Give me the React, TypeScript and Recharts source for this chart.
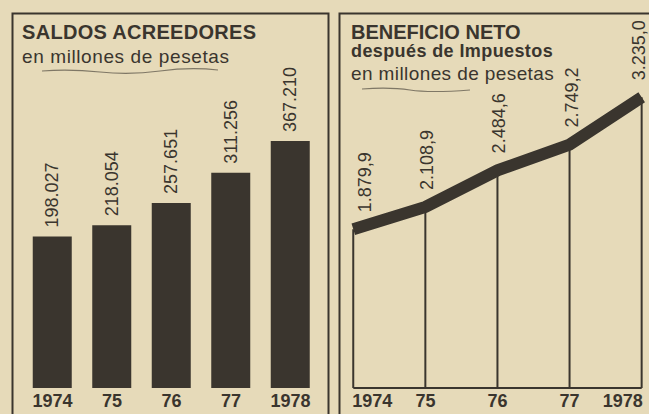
import React from 'react';
import { BarChart, Bar, XAxis, YAxis, ComposedChart, Line, LabelList } from 'recharts';

const barYears = ['1974', '75', '76', '77', '1978'];
const saldos = [198027, 218054, 257651, 311256, 367210];

const lineYears = [1974, 1975, 1976, 1977, 1978];
const lineYearLabels = ['1974', '75', '76', '77', '1978'];
const beneficio = [1879.9, 2108.9, 2484.6, 2749.2, 3235.0];

const INK = '#3a352e';
const PAPER = '#e6dab9';
const FONT = '"Liberation Sans", Arial, Helvetica, sans-serif';

// axis floor of the bar panel (bars in the original rise from below zero)
const BAR_AXIS_MIN = -70000;
const BAR_AXIS_MAX = 400000;

const barData = barYears.map((y, i) => ({ year: y, v: saldos[i] }));
const lineData = lineYears.map((y, i) => ({ year: y, v: beneficio[i] }));

const groupThousands = (s: string) => s.replace(/\B(?=(\d{3})+(?!\d))/g, '.');
const fmtSaldo = (v: number) => groupThousands(String(Math.round(v)));
const fmtBenef = (v: number) => {
  const [i, d] = v.toFixed(1).split('.');
  return groupThousands(i) + ',' + d;
};

const BarTick = (props: any) => {
  const { x, y, payload } = props;
  return (
    <text x={x} y={y + 18.5} textAnchor="middle" fontSize={18} fontWeight={700} fill={INK} fontFamily={FONT}>
      {payload.value}
    </text>
  );
};

const LineTick = (props: any) => {
  const { x, y, payload, index } = props;
  const anchor = index === 0 ? 'start' : index === lineYears.length - 1 ? 'end' : 'middle';
  const dx = index === 0 ? -1 : index === lineYears.length - 1 ? 1 : 0;
  return (
    <text x={x + dx} y={y + 18.5} textAnchor={anchor} fontSize={18} fontWeight={700} fill={INK} fontFamily={FONT}>
      {lineYearLabels[lineYears.indexOf(payload.value)]}
    </text>
  );
};

const barLabel = (p: any) => {
  const { x, y, width, value } = p;
  const v = Array.isArray(value) ? value[1] : value;
  const cx = Number(x) + Number(width) / 2 + 6;
  const sy = Number(y) - 9;
  return (
    <text
      x={cx}
      y={sy}
      transform={`rotate(-90, ${cx}, ${sy})`}
      textAnchor="start"
      fontSize={18}
      fill={INK}
      fontFamily={FONT}
    >
      {fmtSaldo(v)}
    </text>
  );
};

const lineLabel = (p: any) => {
  const { x, y, value, index } = p;
  const off = index === 0 ? 12 : index === lineYears.length - 1 ? -3 : 2;
  const cx = x + off + 6;
  const sy = y - 17;
  return (
    <text
      x={cx}
      y={sy}
      transform={`rotate(-90, ${cx}, ${sy})`}
      textAnchor="start"
      fontSize={18}
      fill={INK}
      fontFamily={FONT}
    >
      {fmtBenef(value)}
    </text>
  );
};

export default function App() {
  return (
    <div
      style={{
        position: 'absolute',
        left: 0,
        top: 0,
        width: 649,
        height: 414,
        background: PAPER,
        overflow: 'hidden',
        fontFamily: FONT,
      }}
    >
      <div style={{ position: 'absolute', left: 0, top: 0 }}>
        <BarChart
          width={330}
          height={414}
          data={barData}
          margin={{ top: 122.5, right: 9.75, bottom: 0, left: 22.75 }}
        >
          <XAxis
            dataKey="year"
            axisLine={false}
            tickLine={false}
            tickSize={0}
            tickMargin={0}
            height={26}
            interval={0}
            tick={<BarTick />}
          />
          <YAxis hide domain={[BAR_AXIS_MIN, BAR_AXIS_MAX]} allowDataOverflow />
          <Bar
            dataKey={(d: any) => [BAR_AXIS_MIN, d.v]}
            fill={INK}
            barSize={39}
            isAnimationActive={false}
          >
            <LabelList dataKey="v" content={barLabel} />
          </Bar>
        </BarChart>
      </div>

      <div style={{ position: 'absolute', left: 330, top: 0 }}>
        <ComposedChart
          width={319}
          height={414}
          data={lineData}
          margin={{ top: 71.5, right: 7.3, bottom: 0, left: 23.3 }}
        >
          <XAxis
            dataKey="year"
            type="number"
            domain={[1974, 1978]}
            ticks={lineYears}
            interval={0}
            axisLine={{ stroke: INK, strokeWidth: 2 }}
            tickLine={false}
            tickSize={0}
            tickMargin={0}
            height={26}
            tick={<LineTick />}
          />
          <YAxis hide domain={[250, 3500]} allowDataOverflow />
          <Bar dataKey="v" fill={INK} barSize={2} isAnimationActive={false} />
          <Line
            dataKey="v"
            stroke={INK}
            strokeWidth={12}
            strokeLinejoin="miter"
            strokeLinecap="butt"
            dot={false}
            isAnimationActive={false}
            label={lineLabel}
          />
        </ComposedChart>
      </div>

      <svg
        width={649}
        height={414}
        style={{ position: 'absolute', left: 0, top: 0, pointerEvents: 'none' }}
      >
        <rect x={12.5} y={13.5} width={316} height={420} fill="none" stroke={INK} strokeWidth={2} />
        <rect x={339.5} y={13.5} width={330} height={420} fill="none" stroke={INK} strokeWidth={2} />

        <text x={22} y={38.5} fontSize={20} fontWeight={700} fill={INK} fontFamily={FONT} letterSpacing={0.3}>
          SALDOS ACREEDORES
        </text>
        <text x={22} y={62.5} fontSize={19} fill={INK} fontFamily={FONT} letterSpacing={0.6}>
          en millones de pesetas
        </text>
        <path d="M42 71 Q70 69 100 72 T160 71 T218 70" fill="none" stroke={INK} strokeWidth={1.2} opacity={0.6} />

        <text x={351} y={38.5} fontSize={20} fontWeight={700} fill={INK} fontFamily={FONT}>
          BENEFICIO NETO
        </text>
        <text x={351} y={57} fontSize={18} fontWeight={700} fill={INK} fontFamily={FONT} letterSpacing={0.4}>
          después de Impuestos
        </text>
        <text x={351} y={80} fontSize={19} fill={INK} fontFamily={FONT} letterSpacing={0.4}>
          en millones de pesetas
        </text>
        <path d="M362 89 Q390 87 410 90 T470 90" fill="none" stroke={INK} strokeWidth={1.2} opacity={0.6} />
      </svg>
    </div>
  );
}
